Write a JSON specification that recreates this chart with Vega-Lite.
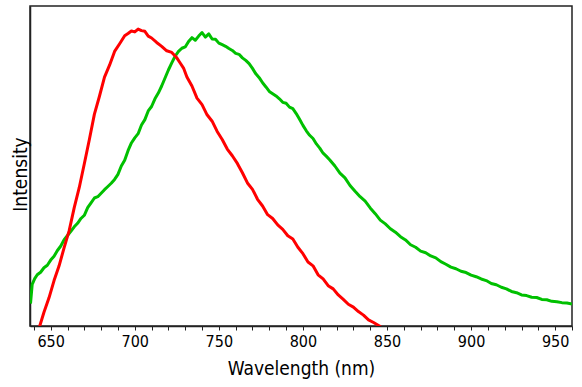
{
  "$schema": "https://vega.github.io/schema/vega-lite/v6.json",
  "autosize": "none",
  "width": 542,
  "height": 320,
  "padding": {"left": 30, "top": 6, "right": 10, "bottom": 61},
  "background": "white",
  "config": {
    "view": {"stroke": "#222", "strokeWidth": 1.5},
    "font": "DejaVu Sans Condensed, Liberation Sans, sans-serif"
  },
  "datasets": {
    "red": [
      {"x":641,"y":-0.04},{"x":643.5,"y":0.0},{"x":646,"y":0.043},{"x":649,"y":0.088},{"x":652,"y":0.142},{"x":655,"y":0.188},{"x":658,"y":0.245},{"x":661,"y":0.298},{"x":664,"y":0.37},{"x":667,"y":0.433},{"x":670,"y":0.507},{"x":673,"y":0.583},{"x":676,"y":0.662},{"x":679,"y":0.718},{"x":682,"y":0.778},{"x":685,"y":0.815},{"x":688,"y":0.858},{"x":691,"y":0.882},{"x":694,"y":0.907},{"x":696,"y":0.914},{"x":698,"y":0.922},{"x":700,"y":0.919},{"x":702,"y":0.928},{"x":704,"y":0.923},{"x":706,"y":0.921},{"x":708,"y":0.906},{"x":710,"y":0.9},{"x":713,"y":0.886},{"x":716,"y":0.874},{"x":719,"y":0.86},{"x":722,"y":0.855},{"x":725,"y":0.838},{"x":727,"y":0.822},{"x":729,"y":0.806},{"x":731,"y":0.778},{"x":734,"y":0.75},{"x":737,"y":0.712},{"x":740,"y":0.692},{"x":743,"y":0.66},{"x":746,"y":0.64},{"x":749,"y":0.608},{"x":752,"y":0.583},{"x":755,"y":0.553},{"x":758,"y":0.532},{"x":761,"y":0.508},{"x":764,"y":0.479},{"x":767,"y":0.447},{"x":770,"y":0.427},{"x":773,"y":0.396},{"x":776,"y":0.375},{"x":779,"y":0.348},{"x":782,"y":0.336},{"x":785,"y":0.316},{"x":788,"y":0.302},{"x":791,"y":0.282},{"x":794,"y":0.272},{"x":797,"y":0.246},{"x":800,"y":0.226},{"x":803,"y":0.2},{"x":806,"y":0.188},{"x":809,"y":0.16},{"x":812,"y":0.147},{"x":815,"y":0.126},{"x":818,"y":0.116},{"x":821,"y":0.097},{"x":824,"y":0.083},{"x":827,"y":0.068},{"x":830,"y":0.059},{"x":833,"y":0.045},{"x":836,"y":0.034},{"x":839,"y":0.019},{"x":842,"y":0.011},{"x":845.5,"y":0.0},{"x":848,"y":-0.01}
    ],
    "green": [
      {"x":638,"y":0.07},{"x":639,"y":0.13},{"x":640.5,"y":0.148},{"x":642,"y":0.16},{"x":644,"y":0.168},{"x":646,"y":0.182},{"x":648,"y":0.19},{"x":650,"y":0.206},{"x":652,"y":0.218},{"x":654,"y":0.236},{"x":656,"y":0.25},{"x":658,"y":0.27},{"x":660,"y":0.283},{"x":662,"y":0.296},{"x":664,"y":0.31},{"x":666,"y":0.321},{"x":668,"y":0.336},{"x":670,"y":0.346},{"x":672,"y":0.37},{"x":674,"y":0.385},{"x":676,"y":0.4},{"x":678,"y":0.404},{"x":680,"y":0.415},{"x":682,"y":0.426},{"x":684,"y":0.436},{"x":686,"y":0.446},{"x":688,"y":0.458},{"x":690,"y":0.474},{"x":692,"y":0.5},{"x":694,"y":0.518},{"x":696,"y":0.548},{"x":698,"y":0.572},{"x":700,"y":0.588},{"x":702,"y":0.601},{"x":704,"y":0.628},{"x":706,"y":0.645},{"x":708,"y":0.672},{"x":710,"y":0.686},{"x":712,"y":0.71},{"x":714,"y":0.728},{"x":716,"y":0.75},{"x":718,"y":0.775},{"x":720,"y":0.8},{"x":722,"y":0.822},{"x":724,"y":0.843},{"x":726,"y":0.858},{"x":728,"y":0.868},{"x":730,"y":0.872},{"x":732,"y":0.889},{"x":734,"y":0.901},{"x":736,"y":0.893},{"x":738,"y":0.906},{"x":740,"y":0.917},{"x":742,"y":0.903},{"x":744,"y":0.913},{"x":746,"y":0.897},{"x":748,"y":0.896},{"x":750,"y":0.884},{"x":752,"y":0.879},{"x":754,"y":0.874},{"x":756,"y":0.867},{"x":758,"y":0.861},{"x":760,"y":0.852},{"x":762,"y":0.849},{"x":764,"y":0.838},{"x":766,"y":0.83},{"x":768,"y":0.82},{"x":770,"y":0.805},{"x":772,"y":0.788},{"x":774,"y":0.776},{"x":776,"y":0.76},{"x":778,"y":0.747},{"x":780,"y":0.733},{"x":782,"y":0.726},{"x":784,"y":0.719},{"x":786,"y":0.71},{"x":788,"y":0.699},{"x":790,"y":0.696},{"x":792,"y":0.684},{"x":794,"y":0.679},{"x":796,"y":0.664},{"x":798,"y":0.646},{"x":800,"y":0.627},{"x":802,"y":0.61},{"x":804,"y":0.596},{"x":806,"y":0.586},{"x":808,"y":0.569},{"x":810,"y":0.556},{"x":812,"y":0.54},{"x":814,"y":0.53},{"x":816,"y":0.519},{"x":819,"y":0.5},{"x":822,"y":0.478},{"x":825,"y":0.463},{"x":828,"y":0.439},{"x":831,"y":0.421},{"x":834,"y":0.404},{"x":837,"y":0.39},{"x":840,"y":0.369},{"x":843,"y":0.351},{"x":846,"y":0.331},{"x":849,"y":0.319},{"x":852,"y":0.304},{"x":855,"y":0.293},{"x":858,"y":0.279},{"x":861,"y":0.269},{"x":864,"y":0.254},{"x":867,"y":0.246},{"x":870,"y":0.234},{"x":873,"y":0.229},{"x":876,"y":0.219},{"x":879,"y":0.213},{"x":882,"y":0.201},{"x":885,"y":0.193},{"x":888,"y":0.184},{"x":891,"y":0.179},{"x":894,"y":0.171},{"x":897,"y":0.167},{"x":900,"y":0.159},{"x":903,"y":0.154},{"x":906,"y":0.147},{"x":909,"y":0.142},{"x":912,"y":0.133},{"x":915,"y":0.129},{"x":918,"y":0.121},{"x":921,"y":0.116},{"x":924,"y":0.108},{"x":927,"y":0.104},{"x":930,"y":0.097},{"x":933,"y":0.095},{"x":936,"y":0.09},{"x":939,"y":0.089},{"x":942,"y":0.083},{"x":945,"y":0.082},{"x":948,"y":0.077},{"x":951,"y":0.076},{"x":954,"y":0.073},{"x":957,"y":0.072},{"x":960,"y":0.069}
    ]
  },
  "encoding": {
    "x": {
      "field": "x", "type": "quantitative",
      "scale": {"domain": [637.7, 960], "nice": false, "zero": false},
      "axis": {
        "title": "Wavelength (nm)",
        "values": [640,650,660,670,680,690,700,710,720,730,740,750,760,770,780,790,800,810,820,830,840,850,860,870,880,890,900,910,920,930,940,950,960],
        "labelExpr": "datum.value % 50 === 0 ? datum.label : ''",
        "grid": false,
        "domainColor": "#222", "domainWidth": 1.5,
        "tickColor": "#222", "tickSize": 4, "tickWidth": 1,
        "labelFontSize": 16, "labelColor": "#000", "labelPadding": 3,
        "labelFlush": false,
        "titleFontSize": 19, "titleFontWeight": "normal", "titleColor": "#000",
        "titleBaseline": "alphabetic", "titleY": 48
      }
    },
    "y": {
      "field": "y", "type": "quantitative",
      "scale": {"domain": [0, 1], "nice": false},
      "axis": {
        "title": "Intensity",
        "ticks": false, "labels": false, "grid": false,
        "domainColor": "#222", "domainWidth": 1.5,
        "titleFontSize": 19, "titleFontWeight": "normal", "titleColor": "#000",
        "titleAngle": -90, "titleBaseline": "alphabetic", "titleAlign": "center",
        "titleX": -4, "titleY": 168
      }
    }
  },
  "layer": [
    {
      "data": {"name": "green"},
      "mark": {"type": "line", "color": "#00C000", "strokeWidth": 3, "clip": true, "strokeJoin": "round"}
    },
    {
      "data": {"name": "red"},
      "mark": {"type": "line", "color": "#FF0000", "strokeWidth": 3, "clip": true, "strokeJoin": "round"}
    }
  ]
}
